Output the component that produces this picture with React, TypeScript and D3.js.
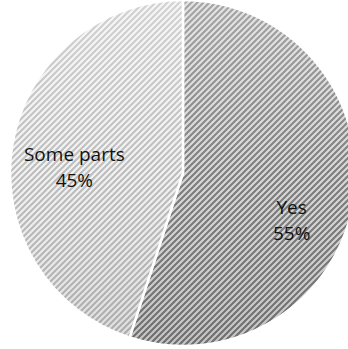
import React from "react";
import * as d3 from "d3";

const categories = ["Yes", "Some parts"];
const values = [55, 45];
const labels = ["55%", "45%"];

const W = 348;
const H = 349;

export default function App() {
  const cx = 183;
  const cy = 173;
  const r = 173;
  const pie = d3.pie<number>().sort(null).startAngle(0).endAngle(2 * Math.PI);
  const arcs = pie(values);
  const arc = d3.arc<d3.PieArcDatum<number>>().innerRadius(0).outerRadius(r);
  const labelArc = d3.arc<d3.PieArcDatum<number>>().innerRadius(110).outerRadius(110);
  const fills = ["url(#patYes)", "url(#patSome)"];
  const dy = [32, 14];
  return (
    <svg width={W} height={H} style={{ position: "absolute", left: 0, top: 0 }}>
      <defs>
        <pattern id="patYes" width="6" height="6" patternUnits="userSpaceOnUse">
          <rect width="6" height="6" fill="#d6d6d6" />
          <path d="M-1,7 L7,-1 M-4,4 L4,-4 M2,10 L10,2" stroke="#767676" strokeWidth="2.1" />
        </pattern>
        <pattern id="patSome" width="6" height="6" patternUnits="userSpaceOnUse">
          <rect width="6" height="6" fill="#f2f2f2" />
          <path d="M-1,7 L7,-1 M-4,4 L4,-4 M2,10 L10,2" stroke="#bababa" strokeWidth="2.1" />
        </pattern>
        <linearGradient id="shade" x1="0" y1="0" x2="0" y2="1">
          <stop offset="0" stopColor="#ffffff" stopOpacity="0.35" />
          <stop offset="0.5" stopColor="#ffffff" stopOpacity="0.05" />
          <stop offset="1" stopColor="#000000" stopOpacity="0.08" />
        </linearGradient>
      </defs>
      <g transform={`translate(${cx},${cy})`}>
        {arcs.map((a, i) => (
          <g key={categories[i]}>
            <path d={arc(a) || ""} fill={fills[i]} />
            <path d={arc(a) || ""} fill="url(#shade)" stroke="#ffffff" strokeWidth={2.5} />
          </g>
        ))}
        {arcs.map((a, i) => {
          const [x, y] = labelArc.centroid(a);
          return (
            <text
              key={"l" + i}
              x={x}
              y={y + dy[i]}
              textAnchor="middle"
              fontFamily="'Open Sans', 'Noto Sans', sans-serif"
              fontSize={19}
              fill="#111"
            >
              <tspan x={x} dy="-0.45em">{categories[i]}</tspan>
              <tspan x={x} dy="1.37em">{labels[i]}</tspan>
            </text>
          );
        })}
      </g>
    </svg>
  );
}
